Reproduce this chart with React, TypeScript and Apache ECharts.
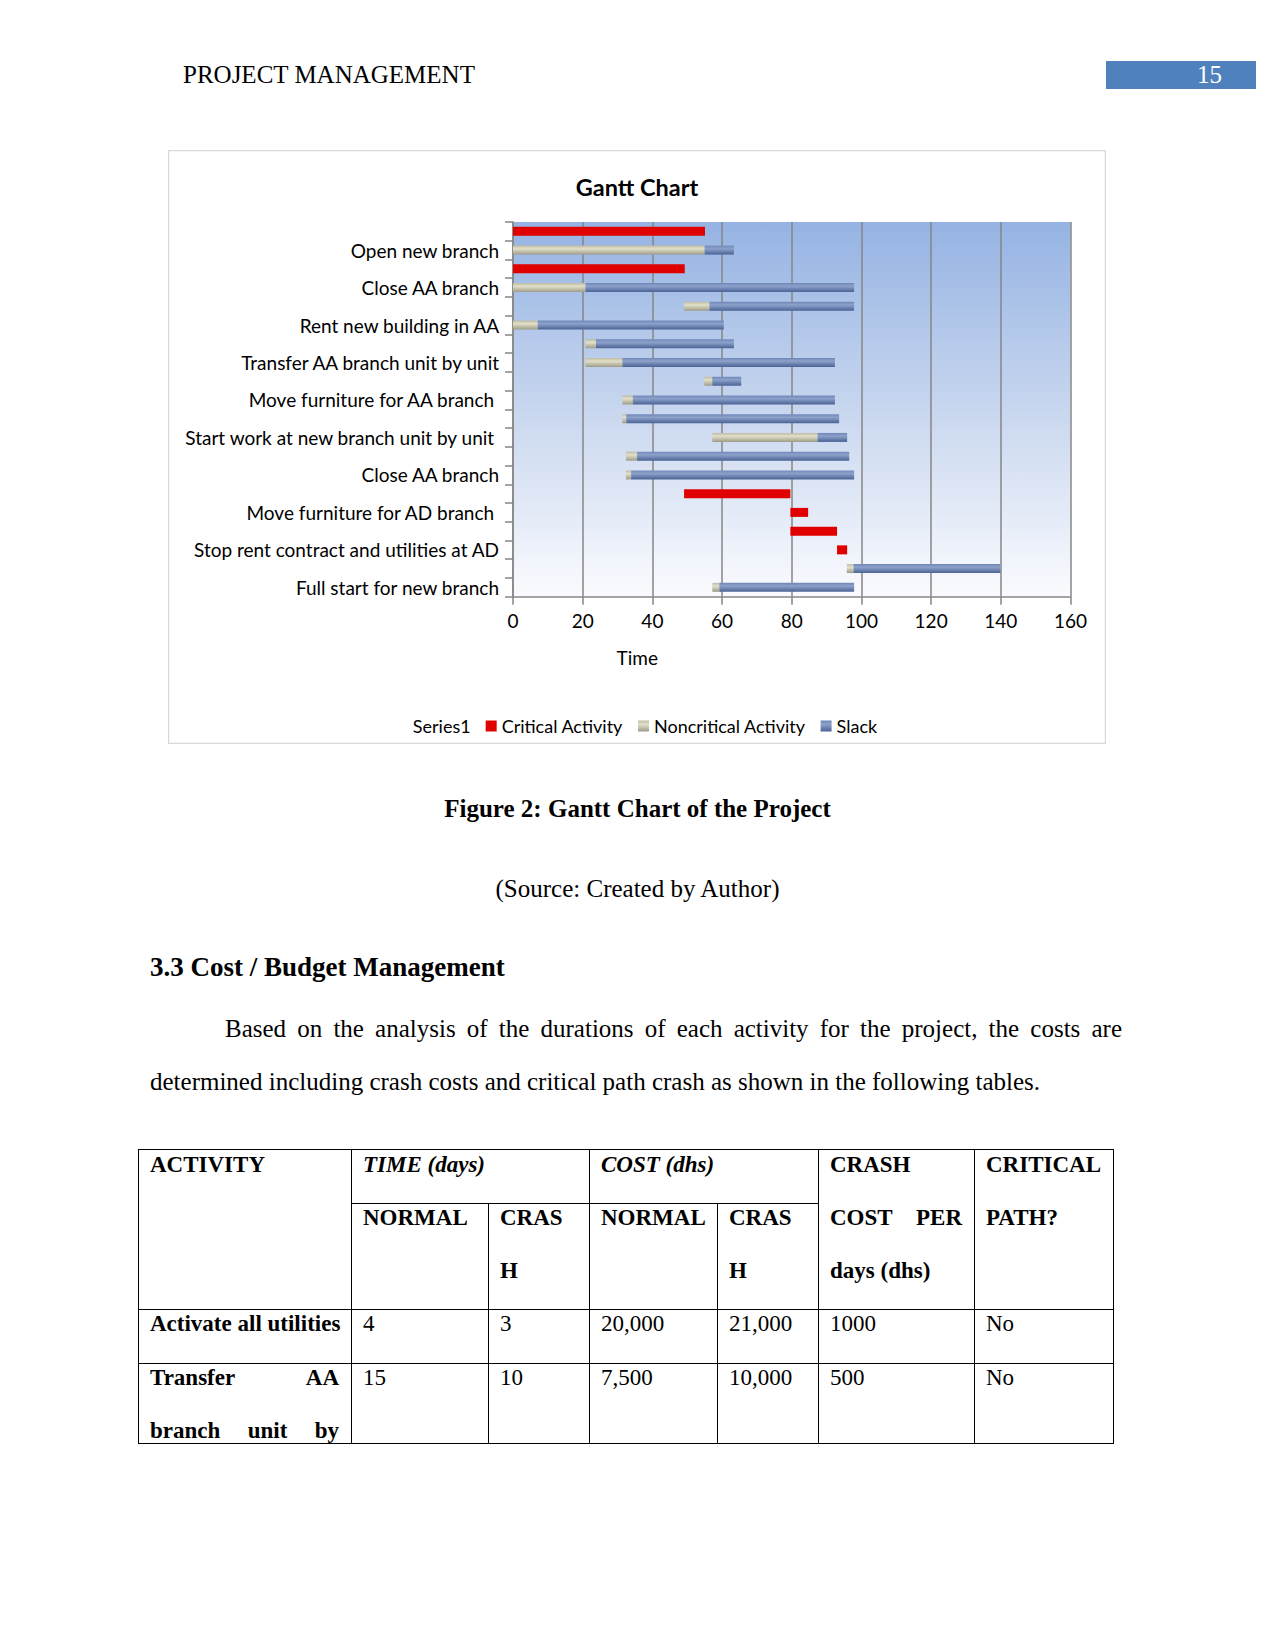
import React, { useEffect, useRef } from "react";
import * as echarts from "echarts";

// ---- Chart data (rows from top to bottom) ----
const categories = [
  "",
  "Open new branch",
  "",
  "Close AA branch",
  "",
  "Rent new building in AA",
  "",
  "Transfer AA branch unit by unit",
  "",
  "Move furniture for AA branch ",
  "",
  "Start work at new branch unit by unit ",
  "",
  "Close AA branch",
  "",
  "Move furniture for AD branch ",
  "",
  "Stop rent contract and utilities at AD",
  "",
  "Full start for new branch",
];
const seriesNames = ["Series1", "Critical Activity", "Noncritical Activity", "Slack"];
const startValues = [0, 0, 0, 0, 49.1, 0, 20.8, 20.8, 54.9, 31.4, 31.4, 57.2, 32.4, 32.4, 49.1, 79.6, 79.6, 93, 95.8, 57.2];
const criticalValues = [55.1, 0, 49.3, 0, 0, 0, 0, 0, 0, 0, 0, 0, 0, 0, 30.5, 5.1, 13.4, 2.9, 0, 0];
const noncriticalValues = [0, 55, 0, 20.8, 7.3, 7.1, 3, 10.6, 2.3, 3, 1.1, 30.2, 3.2, 1.5, 0, 0, 0, 0, 1.9, 2];
const slackValues = [0, 8.4, 0, 77.1, 41.5, 53.4, 39.6, 61, 8.3, 58, 61.1, 8.5, 60.9, 64, 0, 0, 0, 0, 42.2, 38.7];
const xMin = 0;
const xMax = 160;
const xInterval = 20;

// ---- Table data ----
const tableHeader = ["ACTIVITY", "TIME (days)", "COST (dhs)", "CRASH", "CRITICAL"];
const row1 = ["Activate all utilities", "4", "3", "20,000", "21,000", "1000", "No"];
const row2 = ["15", "10", "7,500", "10,000", "500", "No"];

const SERIF = '"Liberation Serif", "Times New Roman", serif';
const CHART_FONT = "Lato, Carlito, Calibri, sans-serif";

function lin(stops: [number, string][]) {
  return {
    type: "linear",
    x: 0,
    y: 0,
    x2: 0,
    y2: 1,
    colorStops: stops.map(([offset, color]) => ({ offset, color })),
  };
}

function GanttChart() {
  const ref = useRef<HTMLDivElement>(null);
  useEffect(() => {
    if (!ref.current) return;
    const chart = echarts.init(ref.current, null, { renderer: "svg" });
    const axisGray = "#868686";
    const option: any = {
      animation: false,
      backgroundColor: "#ffffff",
      graphic: [
        {
          type: "rect",
          shape: { x: 0.5, y: 0.5, width: 937, height: 593 },
          style: { fill: "none", stroke: "#d9d9d9", lineWidth: 1.5 },
          z: 100,
        },
      ],
      title: {
        text: "Gantt Chart",
        left: "center",
        top: 20,
        textStyle: { fontFamily: CHART_FONT, fontSize: 23.5, fontWeight: "bold", color: "#000" },
      },
      legend: {
        data: seriesNames,
        left: "center",
        top: 562,
        itemWidth: 11,
        itemHeight: 11,
        itemGap: 15,
        icon: "rect",
        textStyle: { fontFamily: CHART_FONT, fontSize: 18, color: "#000" },
      },
      grid: {
        left: 345,
        right: 35.5,
        top: 72,
        bottom: 147.3,
        show: true,
        borderWidth: 0,
        backgroundColor: lin([
          [0, "#95b3e3"],
          [0.55, "#cddaf0"],
          [1, "#fafbfe"],
        ]),
      },
      xAxis: {
        type: "value",
        min: xMin,
        max: xMax,
        interval: xInterval,
        name: "Time",
        nameLocation: "middle",
        nameGap: 51,
        nameTextStyle: { fontFamily: CHART_FONT, fontSize: 19, color: "#000", padding: [0, 309, 0, 0] },
        axisLine: { show: true, lineStyle: { color: axisGray, width: 1.5 } },
        axisTick: { show: true, length: 8, lineStyle: { color: axisGray, width: 1.5 } },
        axisLabel: { margin: 14, fontFamily: CHART_FONT, fontSize: 19, color: "#000" },
        splitLine: { show: true, lineStyle: { color: axisGray, width: 1.5 } },
      },
      yAxis: {
        type: "category",
        inverse: true,
        data: categories,
        axisLine: { show: true, lineStyle: { color: axisGray, width: 1.5 } },
        axisTick: { show: true, interval: 0, length: 8, lineStyle: { color: axisGray, width: 1.5 } },
        axisLabel: {
          interval: 0,
          margin: 14,
          fontFamily: CHART_FONT,
          fontSize: 19,
          color: "#000",
          padding: [0, 0, 7, 0],
        },
        splitLine: { show: false },
      },
      series: [
        {
          name: seriesNames[0],
          type: "bar",
          stack: "gantt",
          barWidth: 9,
          data: startValues,
          itemStyle: { color: "rgba(0,0,0,0)" },
          silent: true,
        },
        {
          name: seriesNames[1],
          type: "bar",
          stack: "gantt",
          barWidth: 9,
          data: criticalValues,
          itemStyle: { color: "#e00000" },
        },
        {
          name: seriesNames[2],
          type: "bar",
          stack: "gantt",
          barWidth: 9,
          data: noncriticalValues,
          itemStyle: {
            color: lin([
              [0, "#bdbba3"],
              [0.35, "#e3e0c9"],
              [1, "#9e9c88"],
            ]),
          },
        },
        {
          name: seriesNames[3],
          type: "bar",
          stack: "gantt",
          barWidth: 9,
          data: slackValues,
          itemStyle: {
            color: lin([
              [0, "#7088b8"],
              [0.35, "#8da1ca"],
              [1, "#4a6395"],
            ]),
          },
        },
      ],
    };
    chart.setOption(option);
    return () => chart.dispose();
  }, []);
  return (
    <div
      ref={ref}
      style={{ position: "absolute", left: 168, top: 150, width: 938, height: 594 }}
    />
  );
}

type TProps = {
  x?: number;
  baseline: number;
  size?: number;
  bold?: boolean;
  italic?: boolean;
  width?: number;
  align?: "left" | "center" | "right" | "justify";
  color?: string;
  children: React.ReactNode;
};

function T({ x = 0, baseline, size = 25, bold, italic, width, align = "left", color = "#000", children }: TProps) {
  const style: React.CSSProperties = {
    position: "absolute",
    left: x,
    top: baseline - 0.8375 * size,
    fontFamily: SERIF,
    fontSize: size,
    lineHeight: `${size}px`,
    fontWeight: bold ? "bold" : "normal",
    fontStyle: italic ? "italic" : "normal",
    whiteSpace: "nowrap",
    color,
    textAlign: align,
  };
  if (width !== undefined) style.width = width;
  if (align === "justify") {
    style.textAlignLast = "justify" as any;
    style.whiteSpace = "normal";
  }
  return <div style={style}>{children}</div>;
}

function HL({ x1, x2, y }: { x1: number; x2: number; y: number }) {
  return <div style={{ position: "absolute", left: x1, top: y, width: x2 - x1 + 1, height: 1, background: "#000" }} />;
}
function VL({ x, y1, y2 }: { x: number; y1: number; y2: number }) {
  return <div style={{ position: "absolute", left: x, top: y1, width: 1, height: y2 - y1 + 1, background: "#000" }} />;
}

export default function App() {
  // table geometry
  const L = 138, R = 1113;
  const c1 = 351, c2 = 488, c3 = 589, c4 = 717, c5 = 818, c6 = 974;
  const yTop = 1149, ySub = 1203, yR1 = 1309, yR2 = 1363, yBot = 1443;
  const pad = 12;
  const TS = 23;
  const b1 = 1172, b2 = 1225, b3 = 1278, b4 = 1331, b5 = 1385, b6 = 1438;
  return (
    <div style={{ position: "absolute", left: 0, top: 0, width: 1275, height: 1650, background: "#fff", overflow: "hidden" }}>
      {/* header */}
      <T x={183} baseline={83}>PROJECT MANAGEMENT</T>
      <div style={{ position: "absolute", left: 1106, top: 61, width: 150, height: 28, background: "#4f81bd" }} />
      <T x={1106} width={116} align="right" baseline={83} color="#fff">15</T>

      <GanttChart />

      {/* caption */}
      <T x={0} width={1275} align="center" baseline={817} bold>Figure 2: Gantt Chart of the Project</T>
      <T x={0} width={1275} align="center" baseline={897}>(Source: Created by Author)</T>

      <T x={150} baseline={977} size={27} bold>3.3 Cost / Budget Management</T>
      <T x={225} width={897} align="justify" baseline={1037}>
        Based on the analysis of the durations of each activity for the project, the costs are
      </T>
      <T x={150} baseline={1090}>
        determined including crash costs and critical path crash as shown in the following tables.
      </T>

      {/* table lines */}
      <HL x1={L} x2={R} y={yTop} />
      <HL x1={c1} x2={c5} y={ySub} />
      <HL x1={L} x2={R} y={yR1} />
      <HL x1={L} x2={R} y={yR2} />
      <HL x1={L} x2={R} y={yBot} />
      <VL x={L} y1={yTop} y2={yBot} />
      <VL x={R} y1={yTop} y2={yBot} />
      <VL x={c1} y1={yTop} y2={yBot} />
      <VL x={c3} y1={yTop} y2={yBot} />
      <VL x={c5} y1={yTop} y2={yBot} />
      <VL x={c6} y1={yTop} y2={yBot} />
      <VL x={c2} y1={ySub} y2={yBot} />
      <VL x={c4} y1={ySub} y2={yBot} />

      {/* table header */}
      <T x={L + pad} baseline={b1} size={TS} bold>{tableHeader[0]}</T>
      <T x={c1 + pad} baseline={b1} size={TS} bold italic>{tableHeader[1]}</T>
      <T x={c3 + pad} baseline={b1} size={TS} bold italic>{tableHeader[2]}</T>
      <T x={c5 + pad} baseline={b1} size={TS} bold>{tableHeader[3]}</T>
      <T x={c6 + pad} baseline={b1} size={TS} bold>{tableHeader[4]}</T>

      <T x={c1 + pad} baseline={b2} size={TS} bold>NORMAL</T>
      <T x={c2 + pad} baseline={b2} size={TS} bold>CRAS</T>
      <T x={c2 + pad} baseline={b3} size={TS} bold>H</T>
      <T x={c3 + pad} baseline={b2} size={TS} bold>NORMAL</T>
      <T x={c4 + pad} baseline={b2} size={TS} bold>CRAS</T>
      <T x={c4 + pad} baseline={b3} size={TS} bold>H</T>
      <T x={c5 + pad} width={c6 - c5 - 2 * pad} align="justify" baseline={b2} size={TS} bold>COST PER</T>
      <T x={c5 + pad} baseline={b3} size={TS} bold>days (dhs)</T>
      <T x={c6 + pad} baseline={b2} size={TS} bold>PATH?</T>

      {/* row 1 */}
      <T x={L + pad} baseline={b4} size={TS} bold>{row1[0]}</T>
      <T x={c1 + pad} baseline={b4} size={TS}>{row1[1]}</T>
      <T x={c2 + pad} baseline={b4} size={TS}>{row1[2]}</T>
      <T x={c3 + pad} baseline={b4} size={TS}>{row1[3]}</T>
      <T x={c4 + pad} baseline={b4} size={TS}>{row1[4]}</T>
      <T x={c5 + pad} baseline={b4} size={TS}>{row1[5]}</T>
      <T x={c6 + pad} baseline={b4} size={TS}>{row1[6]}</T>

      {/* row 2 */}
      <T x={L + pad} width={c1 - L - 2 * pad} align="justify" baseline={b5} size={TS} bold>Transfer AA</T>
      <T x={L + pad} width={c1 - L - 2 * pad} align="justify" baseline={b6} size={TS} bold>branch unit by</T>
      <T x={c1 + pad} baseline={b5} size={TS}>{row2[0]}</T>
      <T x={c2 + pad} baseline={b5} size={TS}>{row2[1]}</T>
      <T x={c3 + pad} baseline={b5} size={TS}>{row2[2]}</T>
      <T x={c4 + pad} baseline={b5} size={TS}>{row2[3]}</T>
      <T x={c5 + pad} baseline={b5} size={TS}>{row2[4]}</T>
      <T x={c6 + pad} baseline={b5} size={TS}>{row2[5]}</T>
    </div>
  );
}
